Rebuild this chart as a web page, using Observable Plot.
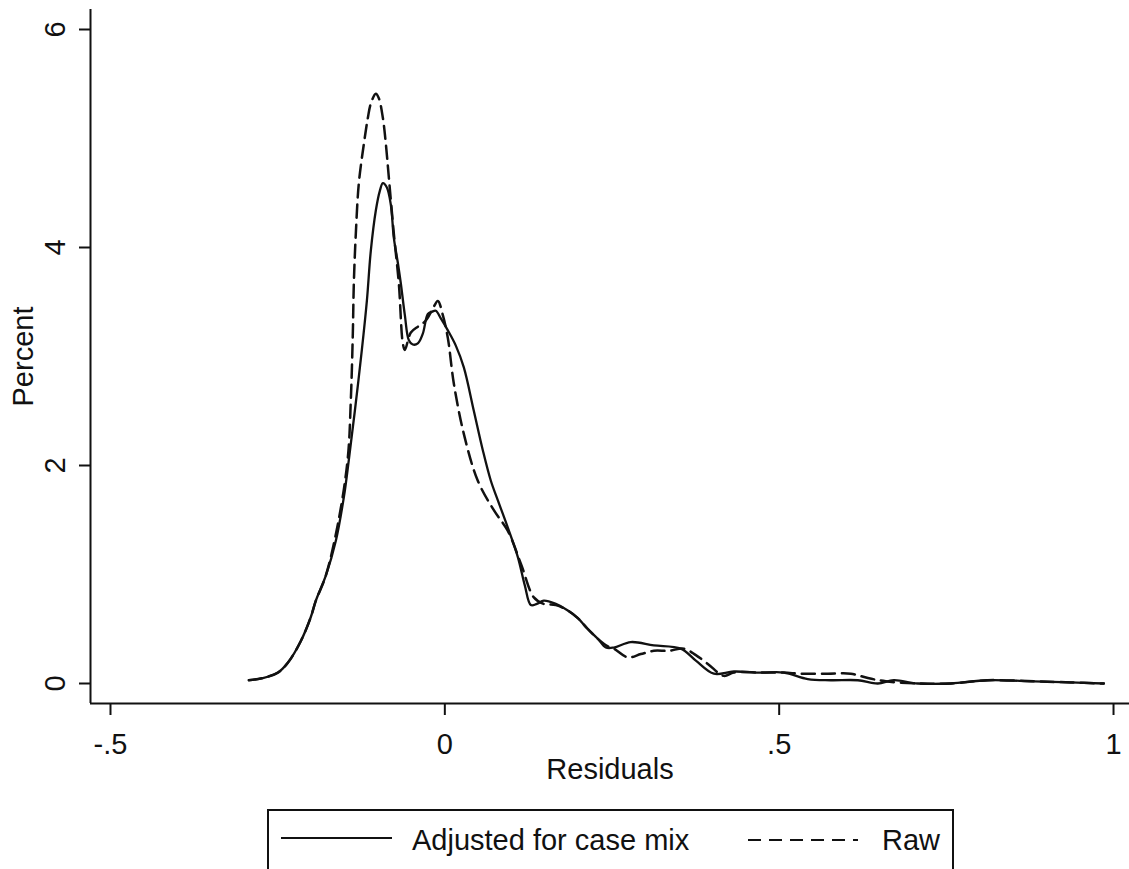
<!DOCTYPE html>
<html>
<head>
<meta charset="utf-8">
<script src="https://cdn.jsdelivr.net/npm/d3@7"></script>
<script src="https://cdn.jsdelivr.net/npm/@observablehq/plot@0.6"></script>
<style>
  body { margin: 0; background: #fff; }
  #wrap { position: relative; width: 1129px; height: 869px; overflow: hidden; background: #fff; font-family: "Liberation Sans", Arial, Helvetica, sans-serif; }
  #legend { position: absolute; left: 0; top: 0; }
</style>
</head>
<body>
<div id="wrap"></div>
<script>
// ---- Data ----
const adjX = [-0.2931,-0.2722,-0.2497,-0.2348,-0.2153,-0.2004,-0.1929,-0.1780,-0.1630,-0.1510,-0.1436,-0.1346,-0.1241,-0.1166,-0.1107,-0.1032,-0.0972,-0.0927,-0.0867,-0.0807,-0.0763,-0.0703,-0.0658,-0.0598,-0.0538,-0.0479,-0.0404,-0.0329,-0.0254,-0.0194,-0.0135,-0.0060,0.0045,0.0164,0.0284,0.0434,0.0568,0.0688,0.0793,0.0942,0.1092,0.1196,0.1286,0.1376,0.1480,0.1660,0.1839,0.1989,0.2138,0.2288,0.2408,0.2527,0.2781,0.3125,0.3529,0.3754,0.4023,0.4322,0.4726,0.5070,0.5428,0.5772,0.6176,0.6475,0.6714,0.7073,0.7567,0.8120,0.8808,0.9361,0.9855];
const adjY = [0.03,0.05,0.10,0.19,0.39,0.61,0.76,0.99,1.31,1.71,2.05,2.50,3.06,3.51,3.97,4.34,4.52,4.59,4.55,4.39,4.09,3.86,3.67,3.38,3.15,3.11,3.12,3.21,3.39,3.41,3.42,3.35,3.24,3.10,2.90,2.50,2.14,1.86,1.68,1.43,1.16,0.90,0.72,0.73,0.76,0.73,0.67,0.60,0.50,0.41,0.33,0.33,0.38,0.35,0.32,0.21,0.09,0.11,0.10,0.10,0.04,0.03,0.03,0.00,0.03,0.00,0.00,0.03,0.02,0.01,0.00];

const rawX = [-0.2931,-0.2722,-0.2497,-0.2348,-0.2153,-0.2004,-0.1929,-0.1780,-0.1585,-0.1451,-0.1406,-0.1376,-0.1361,-0.1331,-0.1286,-0.1211,-0.1151,-0.1107,-0.1032,-0.0987,-0.0927,-0.0882,-0.0837,-0.0763,-0.0688,-0.0628,-0.0598,-0.0508,-0.0389,-0.0284,-0.0179,-0.0105,-0.0030,0.0045,0.0135,0.0284,0.0493,0.0733,0.0942,0.1137,0.1331,0.1480,0.1660,0.1839,0.1989,0.2138,0.2288,0.2438,0.2527,0.2737,0.2931,0.3125,0.3350,0.3574,0.3754,0.3933,0.4172,0.4322,0.4726,0.5070,0.5324,0.5727,0.6071,0.6326,0.6595,0.7073,0.7567,0.8120,0.8808,0.9361,0.9855];
const rawY = [0.03,0.05,0.10,0.19,0.39,0.61,0.76,0.99,1.51,2.07,2.60,3.21,3.67,4.13,4.59,4.95,5.19,5.32,5.41,5.37,5.19,4.95,4.64,4.13,3.67,3.12,3.06,3.22,3.28,3.33,3.44,3.51,3.38,3.17,2.75,2.29,1.86,1.59,1.40,1.10,0.79,0.73,0.72,0.67,0.60,0.50,0.41,0.34,0.32,0.24,0.27,0.30,0.30,0.32,0.26,0.18,0.07,0.10,0.10,0.10,0.09,0.09,0.09,0.05,0.02,0.00,0.00,0.03,0.02,0.01,0.00];

const seriesNames = ["Adjusted for case mix", "Raw"];
const xTicks = [-0.5, 0, 0.5, 1];
const xTickLabels = ["-.5", "0", ".5", "1"];
const yTicks = [0, 2, 4, 6];
const yTickLabels = ["0", "2", "4", "6"];
const xTitle = "Residuals";
const yTitle = "Percent";

// ---- Build tables ----
const adj = adjX.map((x, i) => ({x, y: adjY[i]}));
const raw = rawX.map((x, i) => ({x, y: rawY[i]}));
const yTickData = yTicks.map((v, i) => ({v, label: yTickLabels[i]}));

const FONT = "\"Liberation Sans\", Arial, Helvetica, sans-serif";
const FS = 29;
const xDomain = [-0.5299, 1.0239];
const yDomain = [-0.1835, 6.1835];

const chart = Plot.plot({
  width: 1129,
  height: 800,
  marginLeft: 90,
  marginRight: 0,
  marginTop: 9,
  marginBottom: 97,
  style: {fontFamily: FONT, fontSize: FS + "px", color: "#111", background: "#fff", overflow: "visible"},
  x: {domain: xDomain, label: null},
  y: {domain: yDomain, label: null},
  marks: [
    Plot.ruleX([xDomain[0]], {stroke: "#111", strokeWidth: 2}),
    Plot.ruleY([yDomain[0]], {stroke: "#111", strokeWidth: 2}),
    Plot.axisX({ticks: xTicks, tickFormat: (d) => xTickLabels[xTicks.indexOf(d)], tickSize: 12, tickPadding: 18, fontSize: FS, strokeWidth: 2, label: null}),
    Plot.axisY({ticks: yTicks, tickFormat: () => "", tickSize: 11, strokeWidth: 2, label: null}),
    Plot.text(yTickData, {y: "v", text: "label", frameAnchor: "left", dx: -35, rotate: -90, textAnchor: "middle", lineAnchor: "middle", fontSize: FS, fill: "#111"}),
    Plot.text([xTitle], {frameAnchor: "bottom", dy: 55, lineAnchor: "top", fontSize: FS, fill: "#111"}),
    Plot.text([yTitle], {frameAnchor: "left", dx: -67, rotate: -90, textAnchor: "middle", lineAnchor: "middle", fontSize: FS, fill: "#111"}),
    Plot.line(raw, {x: "x", y: "y", stroke: "#111", strokeWidth: 2.5, strokeDasharray: "13,7", curve: "catmull-rom"}),
    Plot.line(adj, {x: "x", y: "y", stroke: "#111", strokeWidth: 2.3, curve: "catmull-rom"})
  ]
});

const wrap = document.getElementById("wrap");
wrap.appendChild(chart);

// ---- Legend (below the plot SVG) ----
const ns = "http://www.w3.org/2000/svg";
const leg = document.createElementNS(ns, "svg");
leg.setAttribute("id", "legend");
leg.setAttribute("width", 1129);
leg.setAttribute("height", 869);
leg.style.pointerEvents = "none";
leg.style.fontFamily = FONT;
function el(tag, attrs, text) {
  const e = document.createElementNS(ns, tag);
  for (const k in attrs) e.setAttribute(k, attrs[k]);
  if (text != null) e.textContent = text;
  leg.appendChild(e);
  return e;
}
el("rect", {x: 268, y: 810, width: 685, height: 80, fill: "none", stroke: "#111", "stroke-width": 2});
el("line", {x1: 281, x2: 392, y1: 838, y2: 838, stroke: "#111", "stroke-width": 2});
el("text", {x: 412, y: 850, "font-size": FS, fill: "#111"}, seriesNames[0]);
el("line", {x1: 748, x2: 858, y1: 840, y2: 840, stroke: "#111", "stroke-width": 2, "stroke-dasharray": "13,8"});
el("text", {x: 882, y: 850, "font-size": FS, fill: "#111"}, seriesNames[1]);
wrap.appendChild(leg);
</script>
</body>
</html>
